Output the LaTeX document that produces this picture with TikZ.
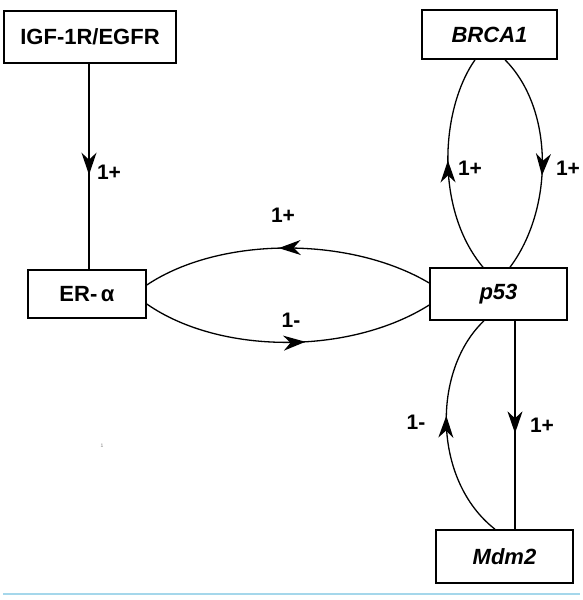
\documentclass[tikz,border=0pt]{standalone}
\usepackage{fontspec}
\setmainfont{Liberation Sans}
\usepackage{tikz}
\usetikzlibrary{positioning}
\usetikzlibrary{arrows.meta}
\usetikzlibrary{decorations.markings}
\definecolor{rulecolor}{RGB}{165,215,235}

\tikzset{
  gene/.style={draw, line width=1.6pt, font=\fontsize{22}{26}\selectfont\bfseries, inner sep=0pt},
  link/.style={line width=1.3pt, >={Stealth[length=22pt,width=15pt,inset=7pt]}},
  midarrow/.style={link, postaction={decorate},
    decoration={markings, mark=at position #1 with {\arrow{>}}}},
  weight/.style={font=\fontsize{21}{24}\selectfont\bfseries}
}

\begin{document}
\begin{tikzpicture}[x=1pt,y=-1pt]
\useasboundingbox (0,0) rectangle (582,600);
% genes
\node [gene, minimum width=172pt, minimum height=52pt] (igf) at (90,37) {IGF-1R/EGFR};
\node [gene, minimum width=135pt, minimum height=49pt] (brca) at (489.5,34.5) {\itshape BRCA1};
\node [gene, minimum width=118pt, minimum height=48pt] (era) at (87,294) {ER-\,α};
\node [gene, minimum width=137pt, minimum height=52pt] (p) at (498.5,294) {\itshape p53};
\node [gene, minimum width=137pt, minimum height=53pt] (mdm) at (504.5,556.5) {\itshape Mdm2};
% IGF-1R/EGFR -> ER
\draw [midarrow=0.54] ([xshift=-1pt]igf.south) -- ([xshift=-1pt]igf.south |- era.north);
\node [weight] (w1) at (109,172) {1+};
% ER <-> p53
\draw [midarrow=0.53] ([yshift=11pt]p.west) .. controls (350,236) and (220,236) .. ([yshift=9pt]era.east);
\node [weight] (w2) at (283,215) {1+};
\draw [midarrow=0.56] ([yshift=-10pt]era.east) .. controls (220,355) and (350,355) .. ([yshift=-11pt]p.west);
\node [weight] (w3) at (291,320) {1-};
% BRCA1 <-> p53
\draw [midarrow=0.52] ([xshift=-15.5pt]p.north) .. controls (435,210) and (440,110) .. ([xshift=-14.5pt]brca.south);
\node [weight] (w4) at (470,168) {1+};
\draw [midarrow=0.56] ([xshift=15.5pt]brca.south) .. controls (555,110) and (553,210) .. ([xshift=11.5pt]p.north);
\node [weight] (w5) at (568,168) {1+};
% p53 <-> Mdm2
\draw [midarrow=0.54] ([xshift=16.5pt]p.south) -- ([xshift=10.5pt]mdm.north);
\node [weight] (w6) at (542,425) {1+};
\draw [midarrow=0.55] ([xshift=-9.5pt]mdm.north) .. controls (432,480) and (432,370) .. ([xshift=-14.5pt]p.south);
\node [weight] (w7) at (416,422) {1-};
% stray mark and rule
\node [font=\fontsize{5}{6}\selectfont, text=gray] (stray) at (102,446) {1};
\coordinate (rl) at (3,594);
\coordinate (rr) at (580,594);
\draw [rulecolor, line width=2pt] (rl) -- (rr);
\end{tikzpicture}
\end{document}
